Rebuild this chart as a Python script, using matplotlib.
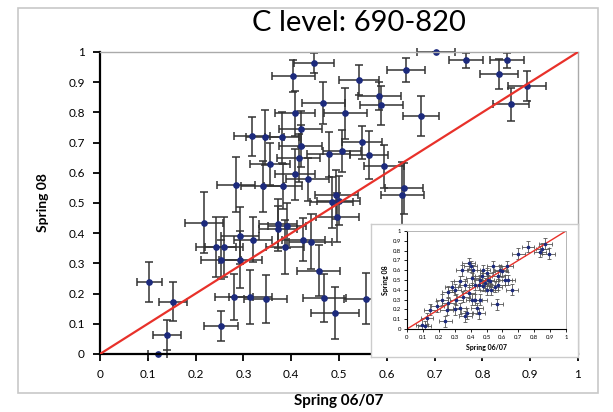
import numpy as np
import matplotlib
matplotlib.use("Agg")
import matplotlib.pyplot as plt
from matplotlib.patches import Rectangle

plt.rcParams['font.family'] = ['Lato', 'DejaVu Sans']

# main chart: C level 690-820
x_main = [0.703, 0.766, 0.851, 0.835, 0.640, 0.542, 0.893, 0.860, 0.584, 0.588,
          0.672, 0.448, 0.404, 0.467, 0.513, 0.408, 0.420, 0.318, 0.345, 0.381,
          0.420, 0.416, 0.479, 0.506, 0.356, 0.408, 0.435, 0.285, 0.341, 0.383,
          0.548, 0.563, 0.594, 0.636, 0.632, 0.494, 0.485, 0.500, 0.496, 0.218,
          0.372, 0.391, 0.372, 0.293, 0.320, 0.425, 0.441, 0.387, 0.243, 0.259,
          0.253, 0.293, 0.458, 0.103, 0.153, 0.280, 0.314, 0.347, 0.469, 0.556,
          0.492, 0.253, 0.140, 0.121]
y_main = [1.000, 0.973, 0.973, 0.927, 0.940, 0.907, 0.887, 0.827, 0.854, 0.824,
          0.787, 0.963, 0.920, 0.830, 0.797, 0.797, 0.744, 0.721, 0.717, 0.717,
          0.688, 0.648, 0.661, 0.671, 0.628, 0.595, 0.578, 0.561, 0.555, 0.555,
          0.701, 0.658, 0.621, 0.548, 0.525, 0.528, 0.502, 0.508, 0.452, 0.435,
          0.432, 0.425, 0.415, 0.392, 0.379, 0.379, 0.372, 0.355, 0.355, 0.355,
          0.312, 0.312, 0.276, 0.239, 0.173, 0.189, 0.189, 0.183, 0.186, 0.183,
          0.136, 0.093, 0.063, 0.000]
xerr_main = [0.040, 0.036, 0.036, 0.040, 0.040, 0.042, 0.040, 0.038, 0.045, 0.045,
             0.038, 0.042, 0.045, 0.045, 0.045, 0.042, 0.045, 0.038, 0.040, 0.035,
             0.045, 0.045, 0.045, 0.040, 0.042, 0.042, 0.045, 0.040, 0.045, 0.040,
             0.042, 0.040, 0.042, 0.040, 0.045, 0.045, 0.045, 0.045, 0.045, 0.040,
             0.040, 0.040, 0.040, 0.040, 0.040, 0.045, 0.045, 0.040, 0.042, 0.040,
             0.042, 0.045, 0.045, 0.026, 0.030, 0.040, 0.045, 0.045, 0.045, 0.045,
             0.050, 0.035, 0.030, 0.020]
yerr_main = [0.000, 0.025, 0.025, 0.050, 0.040, 0.050, 0.050, 0.055, 0.045, 0.065,
             0.066, 0.033, 0.054, 0.070, 0.085, 0.075, 0.060, 0.065, 0.090, 0.085,
             0.070, 0.080, 0.075, 0.070, 0.070, 0.085, 0.070, 0.090, 0.085, 0.075,
             0.055, 0.080, 0.070, 0.085, 0.110, 0.080, 0.085, 0.080, 0.080, 0.100,
             0.080, 0.075, 0.075, 0.095, 0.075, 0.070, 0.090, 0.090, 0.100, 0.100,
             0.065, 0.095, 0.085, 0.066, 0.065, 0.075, 0.090, 0.080, 0.080, 0.085,
             0.085, 0.050, 0.050, 0.000]

# inset chart (all levels)
x_ins = [0.094, 0.110, 0.126, 0.146, 0.240, 0.250, 0.260, 0.257, 0.300, 0.310,
         0.330, 0.345, 0.355, 0.377, 0.366, 0.387, 0.400, 0.410, 0.418, 0.430,
         0.440, 0.450, 0.460, 0.430, 0.470, 0.480, 0.490, 0.500, 0.510, 0.500,
         0.540, 0.565, 0.575, 0.585, 0.596, 0.617, 0.628, 0.638, 0.660, 0.700,
         0.760, 0.837, 0.850, 0.870, 0.890, 0.300, 0.335, 0.387, 0.366, 0.280,
         0.410, 0.450, 0.460, 0.480, 0.520, 0.530, 0.555, 0.575, 0.220, 0.190]
y_ins = [0.044, 0.030, 0.110, 0.197, 0.080, 0.197, 0.260, 0.380, 0.200, 0.300,
         0.210, 0.600, 0.330, 0.160, 0.450, 0.370, 0.640, 0.520, 0.600, 0.450,
         0.210, 0.160, 0.300, 0.300, 0.540, 0.440, 0.470, 0.400, 0.500, 0.570,
         0.640, 0.250, 0.540, 0.600, 0.590, 0.500, 0.640, 0.500, 0.400, 0.770,
         0.840, 0.790, 0.820, 0.870, 0.770, 0.400, 0.485, 0.670, 0.130, 0.430,
         0.300, 0.450, 0.500, 0.600, 0.490, 0.400, 0.430, 0.450, 0.300, 0.230]
xerr_ins = 0.04
yerr_ins = 0.055

ticks = [0, 0.1, 0.2, 0.3, 0.4, 0.5, 0.6, 0.7, 0.8, 0.9, 1]
tick_labels = ['0', '0.1', '0.2', '0.3', '0.4', '0.5', '0.6', '0.7', '0.8', '0.9', '1']

fig = plt.figure(figsize=(6.13, 4.12), dpi=100)

# slide frame
fig.patches.append(Rectangle((0.03, 0.045), 0.945, 0.935, transform=fig.transFigure,
                             fill=False, edgecolor='#c8c8c8', linewidth=1.2))

fig.text(0.585, 0.945, 'C level: 690-820', ha='center', va='center', fontsize=21)

ax = fig.add_axes([0.1631, 0.1408, 0.7798, 0.733])
ax.errorbar(x_main, y_main, xerr=xerr_main, yerr=yerr_main, fmt='o', color='#1c2a7d',
            markersize=3.8, ecolor='#333333', elinewidth=1.1, capsize=3, capthick=1.1,
            zorder=2, clip_on=False)
ax.plot([0, 1], [0, 1], color='#e8312a', linewidth=1.6, zorder=3)
ax.set_xlim(0, 1)
ax.set_ylim(0, 1)
ax.set_xticks(ticks)
ax.set_xticklabels(tick_labels)
ax.set_yticks(ticks)
ax.set_yticklabels(tick_labels)
ax.tick_params(direction='out', length=5, width=1.3, labelsize=8.5, pad=6)
for s in ['left', 'bottom']:
    ax.spines[s].set_linewidth(1.6)
    ax.spines[s].set_color('black')
for s in ['top', 'right']:
    ax.spines[s].set_linewidth(1.0)
    ax.spines[s].set_color('#aaaaaa')
ax.set_xlabel('Spring 06/07', fontsize=11, fontweight='bold', labelpad=10)
ax.set_ylabel('Spring 08', fontsize=10, fontweight='bold', labelpad=14)

# inset panel
bg = fig.add_axes([0.605, 0.1335, 0.3377, 0.3228], zorder=4)
bg.set_xticks([])
bg.set_yticks([])
for s in bg.spines.values():
    s.set_color('#cccccc')
    s.set_linewidth(1.0)

ins = fig.add_axes([0.664, 0.2015, 0.2594, 0.2379], zorder=5)
ins.errorbar(x_ins, y_ins, xerr=xerr_ins, yerr=yerr_ins, fmt='o', color='#1c2a7d',
             markersize=1.6, ecolor='#555555', elinewidth=0.6, capsize=1.2, capthick=0.6)
ins.plot([0, 1], [0, 1], color='#e8312a', linewidth=1.0)
ins.set_xlim(0, 1)
ins.set_ylim(0, 1)
ins.set_xticks(ticks)
ins.set_xticklabels(tick_labels)
ins.set_yticks(ticks)
ins.set_yticklabels(tick_labels)
ins.tick_params(direction='out', length=2, width=0.6, labelsize=4.3, pad=2)
for s in ['left', 'bottom']:
    ins.spines[s].set_linewidth(0.8)
for s in ['top', 'right']:
    ins.spines[s].set_color('#aaaaaa')
    ins.spines[s].set_linewidth(0.6)
ins.set_xlabel('Spring 06/07', fontsize=5, fontweight='bold', labelpad=3)
ins.set_ylabel('Spring 08', fontsize=5, fontweight='bold', labelpad=3)

fig.savefig('out.png', dpi=100)
